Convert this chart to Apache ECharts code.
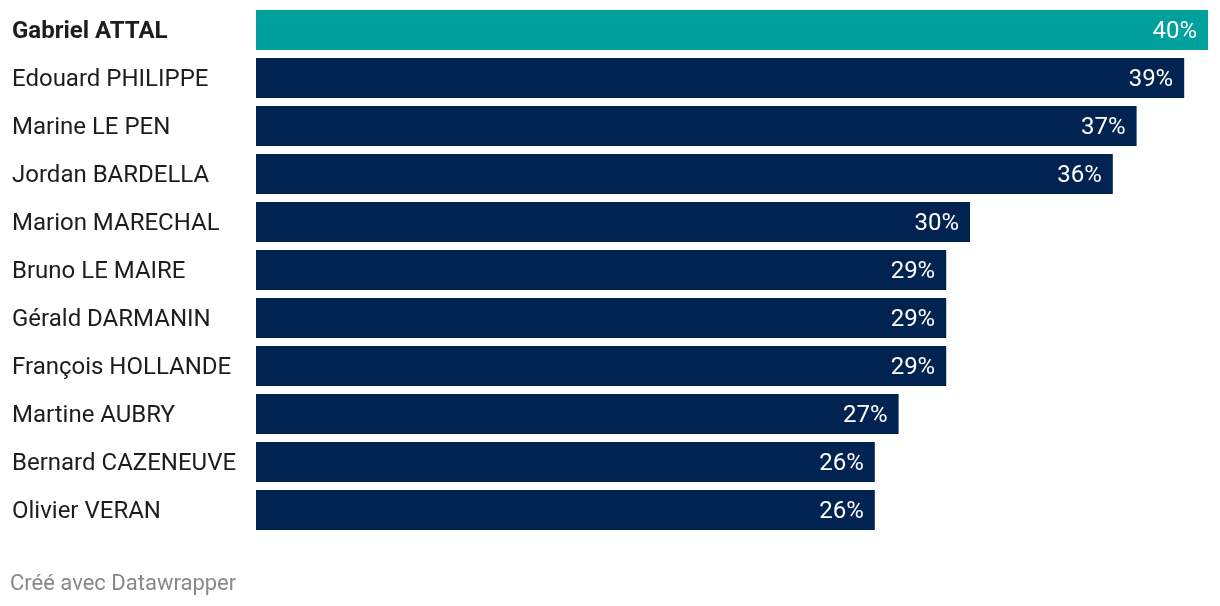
<!DOCTYPE html>
<html>
<head>
<meta charset="utf-8">
<script src="https://cdn.jsdelivr.net/npm/echarts@6/dist/echarts.min.js"></script>
<style>
html,body{margin:0;padding:0;background:#fff;}
#c{width:1220px;height:606px;}
</style>
</head>
<body>
<div id="c"></div>
<script>
const categories = ["Gabriel ATTAL","Edouard PHILIPPE","Marine LE PEN","Jordan BARDELLA","Marion MARECHAL","Bruno LE MAIRE","Gérald DARMANIN","François HOLLANDE","Martine AUBRY","Bernard CAZENEUVE","Olivier VERAN"];
const values = [40,39,37,36,30,29,29,29,27,26,26];
const highlight = "Gabriel ATTAL";

const chart = echarts.init(document.getElementById('c'), null, {renderer:'canvas'});
chart.setOption({
  animation:false,
  backgroundColor:'#fff',
  grid:{left:256,right:12,top:6,height:528,containLabel:false},
  xAxis:{type:'value',min:0,max:40,show:false},
  yAxis:{
    type:'category',inverse:true,data:categories,
    axisLine:{show:false},axisTick:{show:false},splitLine:{show:false},
    axisLabel:{
      align:'left',margin:244,padding:[4,0,0,0],
      fontFamily:'Roboto',fontSize:24,color:'#1d1d1d',
      formatter:function(v){return v===highlight?'{b|'+v+'}':v;},
      rich:{b:{fontFamily:'Roboto',fontSize:24,fontWeight:'bold',color:'#1d1d1d'}}
    }
  },
  series:[{
    type:'bar',barWidth:40,
    data:values.map((v,i)=>({value:v,itemStyle:{color:categories[i]===highlight?'#00a09d':'#012351'}})),
    label:{show:true,position:'insideRight',distance:11,offset:[0,2],formatter:'{c}%',fontFamily:'Roboto',fontSize:24,color:'#fff'}
  }],
  graphic:[{type:'text',left:10,top:573,style:{text:'Créé avec Datawrapper',fontFamily:'Roboto',fontSize:22,fill:'#888'}}]
});
</script>
</body>
</html>
